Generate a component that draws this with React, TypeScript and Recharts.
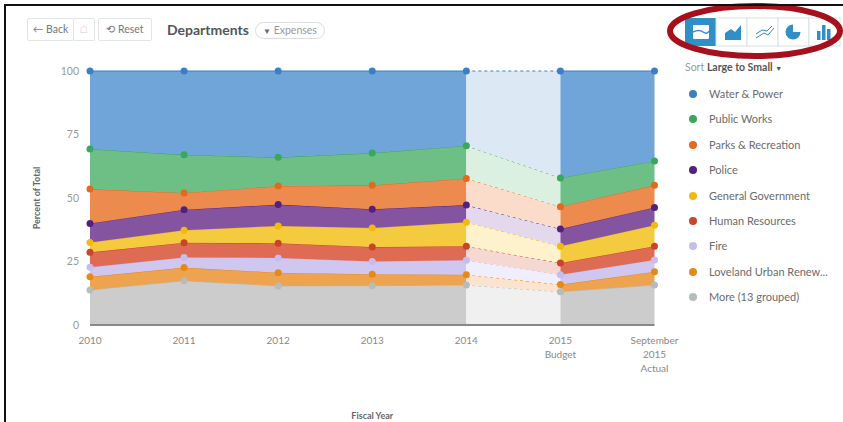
import { Area, ComposedChart, XAxis, YAxis } from 'recharts';

const categories = ['2010', '2011', '2012', '2013', '2014', '2015 Budget', 'September 2015 Actual'];
const yTicks = [0, 25, 50, 75, 100];

// Share of total per department, bottom of the stack first
const more = [13.8, 17.4, 15.4, 15.5, 15.7, 13.1, 15.7];
const loveland = [5.2, 5.2, 5.2, 4.5, 4.1, 2.8, 5.3];
const fire = [3.7, 4.0, 5.8, 5.0, 5.7, 3.9, 4.6];
const humanResources = [5.9, 5.8, 5.8, 5.7, 5.5, 4.6, 5.4];
const generalGovernment = [3.9, 4.9, 6.8, 7.5, 9.5, 6.6, 8.3];
const police = [7.5, 8.1, 8.4, 7.4, 6.7, 6.8, 7.0];
const parks = [13.5, 6.6, 7.3, 9.4, 10.5, 8.8, 8.7];
const publicWorks = [15.8, 15.0, 11.3, 12.7, 12.9, 11.3, 9.6];
const waterPower = [30.7, 33.0, 34.0, 32.3, 29.4, 42.1, 35.4];

const series = [
  { key: 'more', name: 'More (13 grouped)', values: more, dot: '#b4bcbc', fill: '#cccccc', faint: '#f0f0f0' },
  { key: 'loveland', name: 'Loveland Urban Renew...', values: loveland, dot: '#e58a1a', fill: '#eea350', faint: '#fbe4cf' },
  { key: 'fire', name: 'Fire', values: fire, dot: '#c6bcee', fill: '#d0c7f0', faint: '#f0eefb' },
  { key: 'hr', name: 'Human Resources', values: humanResources, dot: '#c9452a', fill: '#de6b54', faint: '#f6d8d2' },
  { key: 'gov', name: 'General Government', values: generalGovernment, dot: '#f2b90f', fill: '#f4cb3e', faint: '#fdf2cc' },
  { key: 'police', name: 'Police', values: police, dot: '#54207f', fill: '#8554a0', faint: '#e3d8ec' },
  { key: 'parks', name: 'Parks & Recreation', values: parks, dot: '#e4691f', fill: '#ed8b4e', faint: '#fbdccb' },
  { key: 'works', name: 'Public Works', values: publicWorks, dot: '#3aa85c', fill: '#6dbf85', faint: '#dcf0e2' },
  { key: 'water', name: 'Water & Power', values: waterPower, dot: '#3b7fc4', fill: '#6fa5d8', faint: '#dce8f4' },
];

// Each department is split into three runs: actuals, the budget gap, then actuals again
const runs = [
  { id: 'a', from: 0, to: 4 },
  { id: 'b', from: 4, to: 5 },
  { id: 'c', from: 5, to: 6 },
];

const table = categories.map((category, i) => {
  const row: Record<string, string | number | null> = { category };
  series.forEach((s) => {
    runs.forEach((r) => {
      row[`${s.key}_${r.id}`] = i >= r.from && i <= r.to ? s.values[i] : null;
    });
  });
  return row;
});

const FONT = 'Lato, "Open Sans", sans-serif';

function CategoryTick({ x, y, payload }: any) {
  const lines: Record<string, string[]> = {
    '2015 Budget': ['2015', 'Budget'],
    'September 2015 Actual': ['September', '2015', 'Actual'],
  };
  const parts = lines[payload.value] ?? [payload.value];
  return (
    <text x={x} y={y} textAnchor="middle" fontSize={10} fontFamily={FONT} fill="#888">
      {parts.map((p, i) => (
        <tspan key={p} x={x} y={y + 11 + i * 14}>
          {p}
        </tspan>
      ))}
    </text>
  );
}

function Toolbar() {
  const box = { stroke: '#d6dfe6', fill: '#fff' };
  const ink = '#2f8fc6';
  return (
    <svg width={843} height={70} style={{ position: 'absolute', left: 0, top: 0 }}>
      {[0, 1, 2, 3, 4].map((i) => (
        <rect key={i} x={685 + i * 31} y={18} width={31} height={28} fill={i === 0 ? ink : '#fff'} {...(i === 0 ? {} : { stroke: box.stroke })} />
      ))}
      <rect x={693} y={25} width={16} height={14} rx={1} fill="#fff" />
      <path d="M693 32 Q699 29 703 32 T709 31" stroke={ink} strokeWidth={1.5} fill="none" />
      <path d="M725 40 L725 33 L731 29 L735 32 L741 25 L741 40 Z" fill={ink} />
      <path d="M756 38 L764 33 L768 35 L774 28 M756 34 L762 30 L767 31 L772 26" stroke={ink} strokeWidth={1} fill="none" />
      <circle cx={793} cy={32} r={7.5} fill={ink} />
      <path d="M793 32 L793 24 A8 8 0 0 1 801 32 Z" fill="#fff" />
      <rect x={817} y={31} width={3.5} height={9} fill={ink} />
      <rect x={822} y={25} width={3.5} height={15} fill={ink} />
      <rect x={827} y={29} width={3.5} height={11} fill={ink} />
      <ellipse cx={755} cy={31} rx={85} ry={25} fill="none" stroke="#a5101c" strokeWidth={6} />
    </svg>
  );
}

function Header() {
  const btn = {
    position: 'absolute' as const,
    top: 18,
    height: 23,
    boxSizing: 'border-box' as const,
    border: '1px solid #e2e5e8',
    borderRadius: 2,
    fontSize: 10.5,
    lineHeight: '21px',
    color: '#777',
    textAlign: 'center' as const,
  };
  return (
    <div style={{ fontFamily: FONT }}>
      <div style={{ ...btn, left: 27, width: 47 }}>← Back</div>
      <div style={{ ...btn, left: 73, width: 22, color: '#ddd' }}>⌂</div>
      <div style={{ ...btn, left: 98, width: 54 }}>⟲ Reset</div>
      <div style={{ position: 'absolute', left: 167, top: 21, fontSize: 14, fontWeight: 700, color: '#555' }}>Departments</div>
      <div
        style={{
          position: 'absolute',
          left: 255,
          top: 22,
          width: 70,
          height: 17,
          boxSizing: 'border-box',
          border: '1px solid #dcdcdc',
          borderRadius: 9,
          fontSize: 10.5,
          lineHeight: '15px',
          textAlign: 'center',
          color: '#999',
        }}
      >
        <span style={{ color: '#666', fontSize: 8 }}>▼</span> Expenses
      </div>
    </div>
  );
}

function SideLegend() {
  const ordered = [...series].reverse();
  return (
    <div style={{ fontFamily: FONT, fontSize: 11, color: '#6b6b6b' }}>
      <div style={{ position: 'absolute', left: 685, top: 61, fontSize: 10.5, color: '#999' }}>
        Sort <b style={{ color: '#555' }}>Large to Small</b> <span style={{ fontSize: 7, color: '#555' }}>▼</span>
      </div>
      {ordered.map((s, i) => (
        <div key={s.key} style={{ position: 'absolute', left: 689, top: 87 + i * 25.4, height: 14, lineHeight: '14px', whiteSpace: 'nowrap' }}>
          <span style={{ position: 'absolute', left: 0, top: 3, width: 8, height: 8, borderRadius: 4, background: s.dot }} />
          <span style={{ position: 'absolute', left: 20 }}>{s.name}</span>
        </div>
      ))}
    </div>
  );
}

export default function App() {
  return (
    <div style={{ position: 'absolute', left: 0, top: 0, width: 843, height: 422, background: '#fff', overflow: 'hidden' }}>
      <ComposedChart
        width={843}
        height={422}
        data={table}
        margin={{ top: 71, right: 188.5, bottom: 0, left: 30 }}
        style={{ position: 'absolute', left: 0, top: 0 }}
      >
        <XAxis
          dataKey="category"
          scale="point"
          padding={{ left: 0, right: 0 }}
          interval={0}
          height={97}
          tick={<CategoryTick />}
          tickLine={false}
          axisLine={{ stroke: '#888', strokeWidth: 2 }}
          label={{ value: 'Fiscal Year', position: 'insideBottom', offset: 3, fontSize: 9, fontWeight: 700, fill: '#666', fontFamily: FONT }}
        />
        <YAxis
          width={60}
          domain={[0, 100]}
          ticks={yTicks}
          tickLine={false}
          axisLine={false}
          tickMargin={5}
          tick={{ fontSize: 10.5, fill: '#999', fontFamily: FONT }}
          label={{ value: 'Percent of Total', angle: -90, position: 'insideLeft', offset: 7, fontSize: 9, fontWeight: 700, fill: '#666', fontFamily: FONT, style: { textAnchor: 'middle' } }}
        />
        {runs.flatMap((r) =>
          series.map((s) => {
            const gap = r.id === 'b';
            return (
              <Area
                key={`${s.key}_${r.id}`}
                type="linear"
                dataKey={`${s.key}_${r.id}`}
                stackId={r.id}
                isAnimationActive={false}
                fill={gap ? s.faint : s.fill}
                fillOpacity={1}
                stroke={s.dot}
                strokeWidth={1}
                strokeDasharray={gap ? '3 3' : undefined}
                dot={gap ? false : { r: 3.5, fill: s.dot, stroke: s.dot, strokeWidth: 0, fillOpacity: 1 }}
                activeDot={false}
              />
            );
          })
        )}
      </ComposedChart>
      <Header />
      <Toolbar />
      <SideLegend />
      {/* outer frame lines */}
      <div style={{ position: 'absolute', left: 4, top: 4, width: 2, height: 418, background: '#111' }} />
      <div style={{ position: 'absolute', left: 4, top: 4, width: 839, height: 2, background: '#111' }} />
    </div>
  );
}
